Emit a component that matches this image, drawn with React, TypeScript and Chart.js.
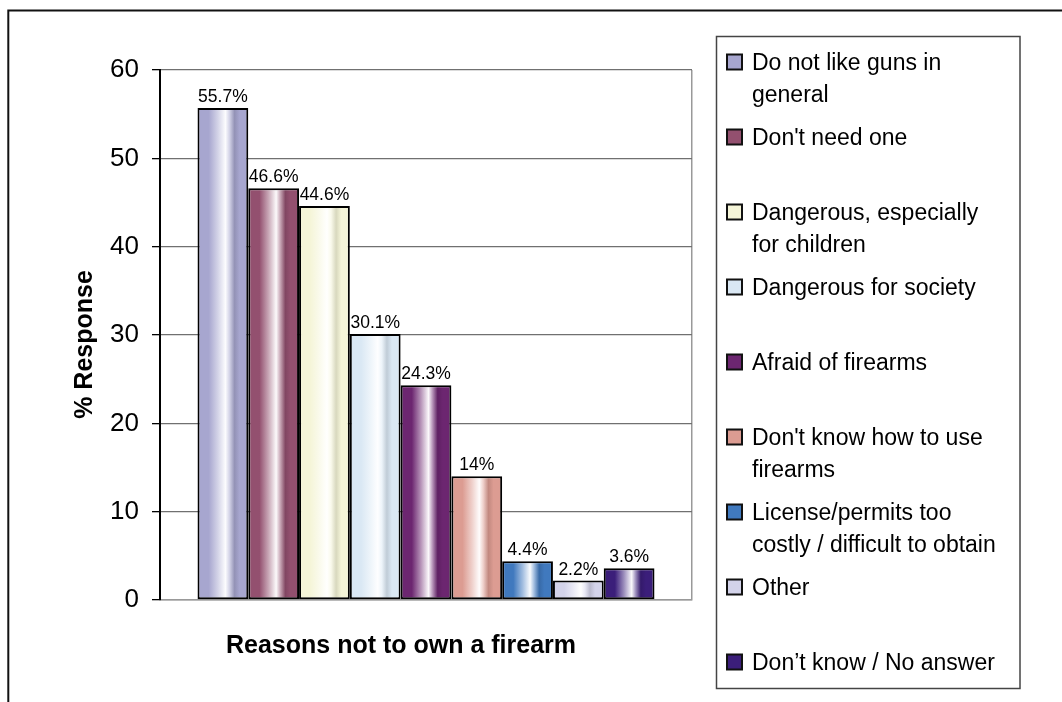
import React, { useEffect, useRef } from 'react';
import { Chart, registerables } from 'chart.js';

Chart.register(...registerables);

// ---- data ----
const reasonLines: string[][] = [
  ['Do not like guns in', 'general'],
  ["Don't need one"],
  ['Dangerous, especially', 'for children'],
  ['Dangerous for society'],
  ['Afraid of firearms'],
  ["Don't know how to use", 'firearms'],
  ['License/permits too', 'costly / difficult to obtain'],
  ['Other'],
  ['Don’t know / No answer'],
];
const responsePct = [55.7, 46.6, 44.6, 30.1, 24.3, 14, 4.4, 2.2, 3.6];
const barColors = ['#A7A6CF', '#93506F', '#F5F5D8', '#DAE8F4', '#6C2670', '#DC9C92', '#4079BE', '#D3D3EA', '#3B1E7A'];
const yTickValues = [0, 10, 20, 30, 40, 50, 60];
const xTitle = 'Reasons not to own a firearm';
const yTitle = '% Response';

const FONT = '"Liberation Sans", Arial, Helvetica, sans-serif';

function hexToRgb(h: string) {
  const n = parseInt(h.slice(1), 16);
  return [(n >> 16) & 255, (n >> 8) & 255, n & 255];
}
function mix(h: string, t: number, target = 255) {
  const [r, g, b] = hexToRgb(h);
  const f = (c: number) => Math.round(c + (target - c) * t);
  return `rgb(${f(r)},${f(g)},${f(b)})`;
}

const customPlugin = {
  id: 'customDecor',
  beforeDraw(chart: any) {
    const { ctx, width, height } = chart;
    ctx.save();
    ctx.fillStyle = '#ffffff';
    ctx.fillRect(0, 0, width, height);
    ctx.strokeStyle = '#111';
    ctx.lineWidth = 2;
    ctx.beginPath();
    ctx.moveTo(8.3, height);
    ctx.lineTo(8.3, 10.5);
    ctx.lineTo(width, 10.5);
    ctx.stroke();
    ctx.restore();
  },
  beforeDatasetsDraw(chart: any) {
    const { ctx } = chart;
    chart.data.datasets.forEach((ds: any, i: number) => {
      const meta = chart.getDatasetMeta(i);
      meta.data.forEach((el: any) => {
        const { x, width } = el.getProps(['x', 'width'], true);
        const left = x - width / 2;
        const base = barColors[i];
        const g = ctx.createLinearGradient(left, 0, left + width, 0);
        g.addColorStop(0, base);
        g.addColorStop(0.22, base);
        g.addColorStop(0.4, mix(base, 0.5));
        g.addColorStop(0.55, mix(base, 0.97));
        g.addColorStop(0.63, mix(base, 0.5));
        g.addColorStop(0.73, mix(base, 0.12, 0));
        g.addColorStop(0.83, base);
        g.addColorStop(1, base);
        el.options = { ...el.options, backgroundColor: g };
      });
    });
  },
  afterDatasetsDraw(chart: any) {
    const { ctx } = chart;
    ctx.save();
    ctx.fillStyle = '#000';
    ctx.font = `17.5px ${FONT}`;
    ctx.textAlign = 'center';
    ctx.textBaseline = 'alphabetic';
    chart.data.datasets.forEach((ds: any, i: number) => {
      const meta = chart.getDatasetMeta(i);
      meta.data.forEach((el: any, j: number) => {
        ctx.fillText(`${ds.data[j]}%`, el.x, el.y - 6);
      });
    });
    ctx.restore();
  },
  afterDraw(chart: any) {
    const { ctx } = chart;
    ctx.save();
    // axis titles
    ctx.fillStyle = '#000';
    ctx.font = `bold 25px ${FONT}`;
    ctx.textAlign = 'center';
    ctx.textBaseline = 'alphabetic';
    ctx.fillText(xTitle, 401, 653);
    ctx.save();
    ctx.translate(91.5, 344.5);
    ctx.rotate(-Math.PI / 2);
    ctx.fillText(yTitle, 0, 0);
    ctx.restore();

    // legend box
    ctx.strokeStyle = '#444';
    ctx.lineWidth = 1.5;
    ctx.strokeRect(716.5, 36.5, 303.5, 652);
    ctx.font = `23px ${FONT}`;
    ctx.textAlign = 'left';
    chart.data.datasets.forEach((ds: any, i: number) => {
      const baseline = 70 + 75 * i;
      ctx.fillStyle = barColors[i];
      ctx.fillRect(727, baseline - 15.5, 15, 15);
      ctx.strokeStyle = '#111';
      ctx.lineWidth = 2;
      ctx.strokeRect(727, baseline - 15.5, 15, 15);
      ctx.fillStyle = '#000';
      reasonLines[i].forEach((line, k) => {
        ctx.fillText(line, 752, baseline + k * 32);
      });
    });
    ctx.restore();
  },
};

export default function App() {
  const ref = useRef<HTMLCanvasElement | null>(null);
  useEffect(() => {
    if (!ref.current) return;
    const chart = new Chart(ref.current, {
      type: 'bar',
      data: {
        labels: [xTitle],
        datasets: responsePct.map((v, i) => ({
          label: reasonLines[i].join(' '),
          data: [v],
          backgroundColor: barColors[i],
          borderColor: '#000',
          borderWidth: 2,
          borderSkipped: false,
          categoryPercentage: 0.859,
          barPercentage: 1,
        })),
      },
      options: {
        responsive: false,
        devicePixelRatio: 1,
        animation: false,
        events: [],
        layout: { padding: { top: 70, right: 370, bottom: 102, left: 0 } },
        plugins: {
          legend: { display: false },
          tooltip: { enabled: false },
          title: { display: false },
        },
        scales: {
          x: {
            ticks: { display: false },
            grid: { color: '#999', lineWidth: 1.5, drawTicks: false, tickLength: 0 },
            border: { display: true, color: '#999', width: 1.5 },
            afterFit: (s: any) => { s.height = 0; },
          },
          y: {
            min: 0,
            max: 60,
            afterBuildTicks: (s: any) => { s.ticks = yTickValues.map((v) => ({ value: v })); },
            ticks: {
              font: { family: FONT, size: 26 },
              color: '#000',
              padding: 13,
            },
            grid: { color: '#707070', lineWidth: 1.3, tickColor: '#000', tickLength: 8 },
            border: { display: true, color: '#000', width: 2 },
            afterFit: (s: any) => { s.width = 160; },
          },
        },
      },
      plugins: [customPlugin],
    });
    return () => chart.destroy();
  }, []);
  return (
    <div style={{ position: 'fixed', left: 0, top: 0, width: 1062, height: 702, background: '#fff' }}>
      <canvas ref={ref} width={1062} height={702} style={{ display: 'block' }} />
    </div>
  );
}
